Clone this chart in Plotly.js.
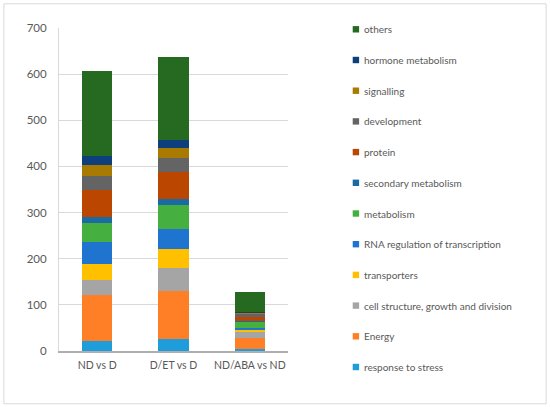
<!DOCTYPE html>
<html>
<head>
<meta charset="utf-8">
<script src="https://cdn.plot.ly/plotly-3.0.1.min.js"></script>
<style>html,body{margin:0;padding:0;background:#fff;}#chart{width:550px;height:407px;}</style>
</head>
<body>
<div id="chart"></div>
<script>
// Categories (x axis)
const categories = ["ND vs D", "D/ET vs D", "ND/ABA vs ND"];

// Series (bottom to top of stack)
const seriesNames = [
  "response to stress",
  "Energy",
  "cell structure, growth and division",
  "transporters",
  "RNA regulation of transcription",
  "metabolism",
  "secondary metabolism",
  "protein",
  "development",
  "signalling",
  "hormone metabolism",
  "others"
];
const responseToStress = [22, 25, 5];
const energy           = [99, 104, 24];
const cellStructure    = [32, 51, 12];
const transporters     = [35, 41, 5];
const rnaRegulation    = [48, 44, 4];
const metabolism       = [42, 52, 13];
const secondaryMetab   = [13, 13, 2];
const protein          = [59, 59, 9];
const development      = [29, 29, 7];
const signalling       = [24, 21, 2];
const hormoneMetab     = [19, 18, 2];
const others           = [184, 180, 43];

const seriesValues = [responseToStress, energy, cellStructure, transporters, rnaRegulation,
  metabolism, secondaryMetab, protein, development, signalling, hormoneMetab, others];

const seriesColors = ["#1F9DDB", "#FF7F27", "#A5A5A5", "#FFC000", "#1F74CF", "#45B03F",
  "#1A6AA3", "#BA4600", "#646464", "#A97A00", "#0E3F7D", "#266A22"];

const yTicks = [0, 100, 200, 300, 400, 500, 600, 700];

const FONT = "Lato, 'Open Sans', sans-serif";
const TXT = "#595959";

const traces = seriesNames.map((n, i) => ({
  type: "bar",
  name: n,
  x: categories,
  y: seriesValues[i],
  marker: {color: seriesColors[i], line: {width: 0}},
  showlegend: false,
  hoverinfo: "x+y+name"
}));

// Custom legend (top item = last series)
const plotTop = 27.7, plotBottom = 350.7, plotLeft = 58.7, plotRight = 288;
const pH = plotBottom - plotTop, pW = plotRight - plotLeft;
const legTop = 29, legStep = 30.7, legSymX = 356, legTextX = 362;
const annotations = [];
const shapes = [];
const order = seriesNames.map((_, i) => i).reverse();
order.forEach((si, k) => {
  const yPix = legTop + k * legStep;
  const yp = (plotBottom - yPix) / pH;
  annotations.push({
    xref: "paper", yref: "paper",
    x: (legTextX - plotLeft) / pW, y: yp,
    xanchor: "left", yanchor: "middle",
    text: seriesNames[si], showarrow: false,
    font: {family: FONT, size: 10, color: TXT}
  });
  shapes.push({
    type: "rect", xref: "paper", yref: "paper",
    xsizemode: "pixel", ysizemode: "pixel",
    xanchor: (legSymX - plotLeft) / pW, yanchor: yp,
    x0: -3.2, x1: 3.2, y0: -3.2, y1: 3.2,
    fillcolor: seriesColors[si], line: {width: 0}
  });
});
// outer chart border
shapes.push({
  type: "rect", xref: "paper", yref: "paper",
  x0: (3.5 - plotLeft) / pW, x1: (546.5 - plotLeft) / pW,
  y0: (plotBottom - 403.5) / pH, y1: (plotBottom - 3.5) / pH,
  line: {color: "#D9D9D9", width: 1}, fillcolor: "rgba(0,0,0,0)", layer: "below"
});

const layout = {
  width: 550, height: 407,
  margin: {l: plotLeft, r: 550 - plotRight, t: plotTop, b: 407 - plotBottom, pad: 0},
  barmode: "stack",
  bargap: 0.6,
  paper_bgcolor: "#fff", plot_bgcolor: "#fff",
  font: {family: FONT, size: 11.5, color: TXT},
  showlegend: false,
  xaxis: {
    type: "category",
    showline: true, linecolor: "#AFAFAF", linewidth: 1.5,
    showgrid: false, zeroline: false,
    ticks: "", ticklabelstandoff: 4,
    tickfont: {family: FONT, size: 10.5, color: TXT}
  },
  yaxis: {
    range: [0, 700],
    tickvals: yTicks, ticktext: yTicks.map(String),
    showgrid: true, gridcolor: "#D9D9D9", gridwidth: 1,
    showline: true, linecolor: "#D9D9D9", linewidth: 1,
    zeroline: false,
    ticks: "", ticklabelstandoff: 9,
    tickfont: {family: FONT, size: 11.5, color: TXT}
  },
  annotations: annotations,
  shapes: shapes
};

Plotly.newPlot("chart", traces, layout, {displayModeBar: false, staticPlot: true});
</script>
</body>
</html>
